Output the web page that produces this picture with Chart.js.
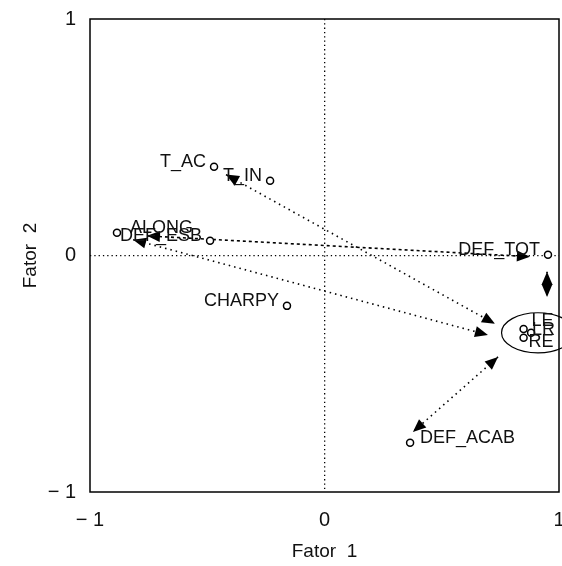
<!DOCTYPE html>
<html>
<head>
<meta charset="utf-8">
<script src="https://cdn.jsdelivr.net/npm/chart.js@4"></script>
<style>
    body { margin: 0; background: #fff; }
    #wrap { width: 562px; height: 566px; }
</style>
</head>
<body>
<div id="wrap"><canvas id="fator-chart" width="562" height="566"></canvas></div>
<script>
const fatorChartCanvas = document.querySelector("#fator-chart");

// variable loadings
const varNames = ["T_AC", "T_IN", "ALONG", "DEF_ESB", "DEF_TOT", "CHARPY", "LE", "LR", "RE", "DEF_ACAB"];
const fator1 = [-0.471, -0.232, -0.885, -0.488, 0.953, -0.160, 0.849, 0.881, 0.849, 0.365];
const fator2 = [0.375, 0.316, 0.096, 0.062, 0.003, -0.213, -0.311, -0.327, -0.348, -0.792];

// arrows between groups (both ends have heads)
const arrowFromX = [-0.420, -0.816, -0.757, 0.949, 0.740];
const arrowFromY = [0.342, 0.067, 0.083, -0.069, -0.429];
const arrowToX = [0.727, 0.697, 0.876, 0.949, 0.377];
const arrowToY = [-0.289, -0.336, -0.005, -0.175, -0.746];

// ellipse round the LE / LR / RE group
const groupCenter = [0.910, -0.327];
const groupRadius = [0.155, 0.085];

const tickLabels = {"-1": "\u2212 1", "0": "0", "1": "1"};

const textFont = "'Liberation Sans', Arial, sans-serif";


function getArrowDatasets() {
    let sets = [];
    for (let i = 0; i < arrowFromX.length; i++) {
        sets.push({
            type: 'line',
            data: [{x: arrowFromX[i], y: arrowFromY[i]}, {x: arrowToX[i], y: arrowToY[i]}],
            borderColor: "#000",
            borderWidth: 1.6,
            borderDash: i === 2 ? [3, 3] : [1.5, 4],
            pointRadius: 0,
            fill: false,
            isArrow: true,
        });
    };
    return sets;
};


function drawHead(ctx, from, to) {
    const ang = Math.atan2(to.y - from.y, to.x - from.x);
    const len = 13, half = 5.5;
    ctx.beginPath();
    ctx.moveTo(to.x, to.y);
    ctx.lineTo(to.x - len * Math.cos(ang) + half * Math.sin(ang), to.y - len * Math.sin(ang) - half * Math.cos(ang));
    ctx.lineTo(to.x - len * Math.cos(ang) - half * Math.sin(ang), to.y - len * Math.sin(ang) + half * Math.cos(ang));
    ctx.closePath();
    ctx.fill();
};


// fixed box sizes, and no extra room for the end tick labels
function fixBox(size) {
    return function (scale) {
        if (scale.isHorizontal()) {
            scale.height = size;
        } else {
            scale.width = size;
        };
        scale.paddingLeft = 0;
        scale.paddingRight = 0;
        scale.paddingTop = 0;
        scale.paddingBottom = 0;
    };
};


// label side: [direction, dx, dy]; default is text left of point
const labelSide = {"ALONG": [1, 13, -5], "DEF_ACAB": [1, 10, -5], "LE": [1, 8, -8], "LR": [1, 1, -3], "RE": [1, 5, 4]};

const extrasPlugin = {
    id: 'extras',
    beforeDatasetsDraw(chart) {
        const {ctx, chartArea: a} = chart;
        ctx.save();
        ctx.strokeStyle = "#000";
        ctx.lineWidth = 1.5;
        ctx.strokeRect(a.left, a.top, a.right - a.left, a.bottom - a.top);
        ctx.restore();
    },
    afterDatasetsDraw(chart) {
        const {ctx, scales: {x, y}} = chart;
        ctx.save();
        ctx.fillStyle = "#000";
        chart.data.datasets.forEach((ds, i) => {
            if (!ds.isArrow) return;
            const pts = chart.getDatasetMeta(i).data;
            drawHead(ctx, pts[0], pts[1]);
            drawHead(ctx, pts[1], pts[0]);
        });

        // ellipse
        const cx = x.getPixelForValue(groupCenter[0]);
        const cy = y.getPixelForValue(groupCenter[1]);
        const rx = x.getPixelForValue(groupCenter[0] + groupRadius[0]) - cx;
        const ry = cy - y.getPixelForValue(groupCenter[1] + groupRadius[1]);
        ctx.beginPath();
        ctx.ellipse(cx, cy, rx, ry, 0, 0, Math.PI * 2);
        ctx.strokeStyle = "#000";
        ctx.lineWidth = 1.2;
        ctx.stroke();

        // point names
        ctx.font = "18px " + textFont;
        ctx.fillStyle = "#111";
        ctx.textBaseline = 'middle';
        varNames.forEach((name, i) => {
            const px = x.getPixelForValue(fator1[i]);
            const py = y.getPixelForValue(fator2[i]);
            const side = labelSide[name] || [-1, 8, -5];
            ctx.textAlign = side[0] > 0 ? 'left' : 'right';
            ctx.fillText(name, px + side[0] * side[1], py + side[2]);
        });
        ctx.restore();
    }
};


const scatterConfig = {
    type: 'scatter',
    data: {
        datasets: [{
            data: fator1.map((v, i) => ({x: v, y: fator2[i]})),
            pointRadius: 3.5,
            pointBorderWidth: 1.5,
            pointBorderColor: "#000",
            pointBackgroundColor: "#fff",
        }].concat(getArrowDatasets())
    },
    options: {
        responsive: false,
        animation: false,
        layout: {
            autoPadding: false,
            padding: {top: 19, right: 3, left: 0, bottom: 0}
        },
        plugins: {
            legend: {display: false},
            tooltip: {enabled: false},
        },
        scales: {
            x: {
                min: -1,
                max: 1,
                afterFit: fixBox(74),
                ticks: {
                    stepSize: 1,
                    padding: 16,
                    color: "#111",
                    font: {size: 20, family: textFont},
                    callback: (v) => tickLabels[String(v)],
                },
                grid: {
                    drawTicks: false,
                    lineWidth: 1.3,
                    color: (c) => (c.tick && c.tick.value === 0) ? "#000" : "rgba(0,0,0,0)",
                },
                border: {display: false, dash: [1.3, 3]},
                title: {
                    display: true,
                    text: "Fator  1",
                    color: "#111",
                    font: {size: 19, family: textFont},
                    padding: {top: 0, bottom: 3},
                },
            },
            y: {
                min: -1,
                max: 1,
                afterFit: fixBox(90),
                ticks: {
                    stepSize: 1,
                    padding: 14,
                    color: "#111",
                    font: {size: 20, family: textFont},
                    callback: (v) => tickLabels[String(v)],
                },
                grid: {
                    drawTicks: false,
                    lineWidth: 1.3,
                    color: (c) => (c.tick && c.tick.value === 0) ? "#000" : "rgba(0,0,0,0)",
                },
                border: {display: false, dash: [1.3, 3]},
                title: {
                    display: true,
                    text: "Fator  2",
                    color: "#111",
                    font: {size: 19, family: textFont},
                    padding: {top: 19, bottom: 0},
                },
            },
        },
    },
    plugins: [extrasPlugin],
};

const fatorChart = new Chart(fatorChartCanvas, scatterConfig);
</script>
</body>
</html>
